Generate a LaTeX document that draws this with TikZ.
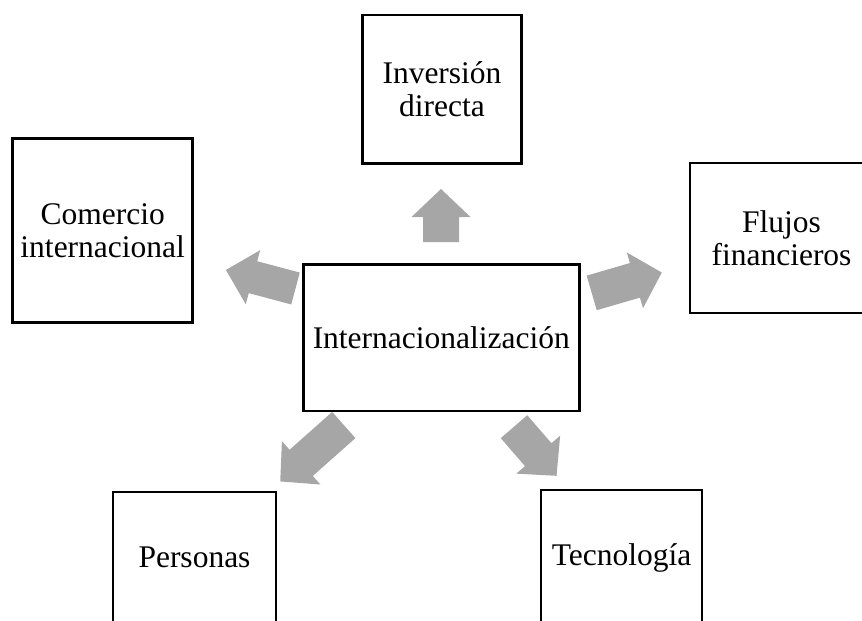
\documentclass[tikz,border=0pt]{standalone}
\usepackage{fontspec}
\setmainfont{Liberation Serif}
\definecolor{arrowgray}{RGB}{166,166,166}
\newcommand{\blockarrow}[6]{% tail x, tail y, angle, length, shaft width, head width
  \begin{scope}[shift={(#1,#2)},rotate=#3]
    \fill[arrowgray] (0,{-#5/2}) -- ({#4-28},{-#5/2}) -- ({#4-28},{-#6/2}) -- (#4,0)
      -- ({#4-28},{#6/2}) -- ({#4-28},{#5/2}) -- (0,{#5/2}) -- cycle;
  \end{scope}}
\begin{document}
\begin{tikzpicture}[x=1pt,y=-1pt,
  box/.style={draw=black,line width=2.6pt,fill=white,inner sep=0pt,align=center,
    font=\fontsize{31.5}{32.5}\selectfont}]
\useasboundingbox (0,0) rectangle (862,621);
\clip (0,0) rectangle (862,621);
% block arrows
\blockarrow{441}{242}{90}{53}{36}{59}
\blockarrow{295.5}{288.5}{165.1}{72}{33}{56}
\blockarrow{591.7}{292.9}{16.2}{73}{36}{58}
\blockarrow{343.8}{425}{221.6}{85}{35}{58}
\blockarrow{514}{426.7}{-49.1}{65}{35}{58}
% boxes
\node[box,minimum width=276pt,minimum height=146.7pt] (center) at (441.3,337.7) {Internacionalización};
\node[box,minimum width=159.4pt,minimum height=148.4pt] (inv) at (442,89) {Inversión\\directa};
\node[box,minimum width=180pt,minimum height=184.4pt] (com) at (102.7,230.5) {Comercio\\internacional};
\node[box,minimum width=183pt,minimum height=150pt] (flu) at (781.5,238) {Flujos\\financieros};
\node[box,minimum width=163pt,minimum height=131.4pt] (per) at (194.5,557.7) {Personas};
\node[box,minimum width=161pt,minimum height=136pt] (tec) at (621.5,558) {Tecnología};
\end{tikzpicture}
\end{document}
